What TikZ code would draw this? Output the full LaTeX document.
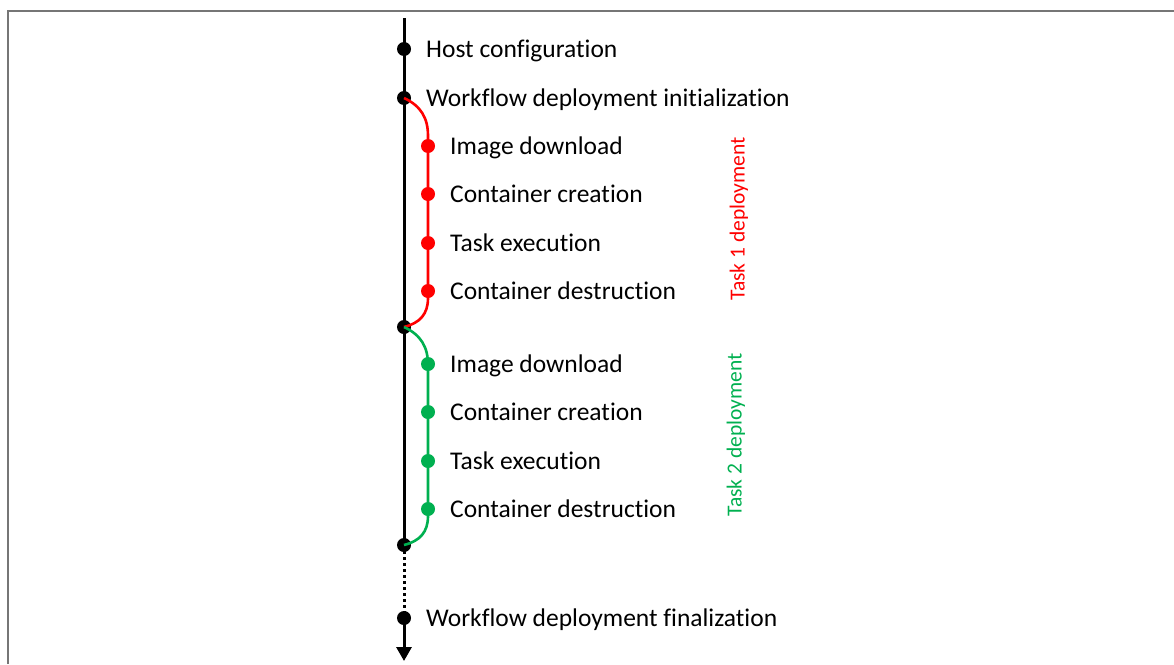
\documentclass[tikz,border=0pt]{standalone}
\usepackage{fontspec}
\setmainfont{Carlito}[Ligatures={NoCommon}]
\usetikzlibrary{arrows.meta}
\definecolor{tred}{RGB}{255,0,0}
\definecolor{tgreen}{RGB}{0,176,80}
\definecolor{frame}{RGB}{118,118,118}
\tikzset{
  dot/.style={circle,fill,inner sep=0pt,minimum size=14pt},
  lbl/.style={anchor=base west,inner sep=0pt,font=\fontsize{25.5}{30}\selectfont},
  mainline/.style={line width=3pt,black},
  branch/.style={line width=2.6pt},
  side/.style={rotate=90,inner sep=0pt,font=\fontsize{21.5}{26}\selectfont},
}
\begin{document}
\begin{tikzpicture}[x=1pt,y=-1pt]
\useasboundingbox (0,0) rectangle (1174,664);
\draw[frame,line width=2pt] (8,664) -- (8,11) -- (1174,11);
% main dots
\coordinate (top) at (404,18);
\node[dot] (h) at (404,49) {};
\node[dot] (w) at (404,98) {};
\node[dot] (m1) at (404,327) {};
\node[dot] (m2) at (404,545) {};
\node[dot] (f) at (404,618) {};
\coordinate (bot) at (404,661);
\draw[mainline] (top) -- (h.center) -- (w.center) -- (m1.center) -- (m2.center);
\draw[mainline,dash pattern=on 3pt off 3pt] (m2.center) -- (f.center);
\draw[mainline,-{Triangle[width=15pt,length=14pt]}] (f.center) -- (bot);
\node[lbl] (lh) at (426,57) {Host configuration};
\node[lbl] (lw) at (426,106) {Workflow deployment initialization};
\node[lbl] (lf) at (426,626) {Workflow deployment finalization};
% red branch
\begin{scope}[tred]
\node[dot] (r1) at (428,146) {};
\node[dot] (r2) at (428,194) {};
\node[dot] (r3) at (428,243) {};
\node[dot] (r4) at (428,291) {};
\draw[branch] (w.center) .. controls (421,106) and (428,118) .. (428,136) -- (r1.center) -- (r2.center) -- (r3.center) -- (r4.center) -- (428,298) .. controls (428,314) and (420,323) .. (m1.center);
\node[side] (t1) at (739,219) {Task 1 deployment};
\end{scope}
\node[lbl] (lr1) at (450,154) {Image download};
\node[lbl] (lr2) at (450,202) {Container creation};
\node[lbl] (lr3) at (450,251) {Task execution};
\node[lbl] (lr4) at (450,299) {Container destruction};
% green branch
\begin{scope}[tgreen]
\node[dot] (g1) at (428,364) {};
\node[dot] (g2) at (428,412) {};
\node[dot] (g3) at (428,461) {};
\node[dot] (g4) at (428,509) {};
\draw[branch] (m1.center) .. controls (421,335) and (428,347) .. (428,365) -- (g1.center) -- (g2.center) -- (g3.center) -- (g4.center) -- (428,516) .. controls (428,532) and (420,541) .. (m2.center);
\node[side] (t2) at (736,435) {Task 2 deployment};
\end{scope}
\node[lbl] (lg1) at (450,372) {Image download};
\node[lbl] (lg2) at (450,420) {Container creation};
\node[lbl] (lg3) at (450,469) {Task execution};
\node[lbl] (lg4) at (450,517) {Container destruction};
\end{tikzpicture}
\end{document}
